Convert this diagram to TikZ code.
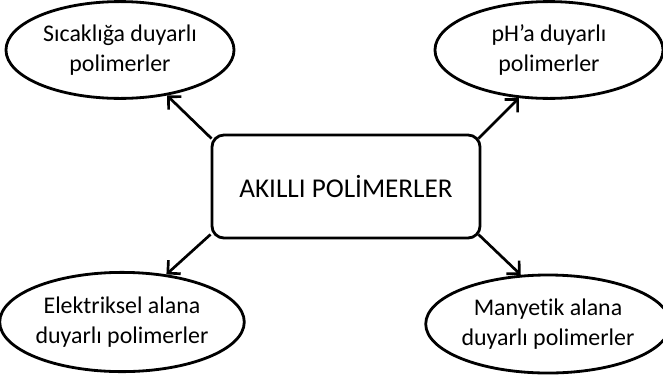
\documentclass[tikz,border=0pt]{standalone}
\usepackage{fontspec}
\setmainfont{Carlito}[Ligatures=NoCommon]
\usetikzlibrary{arrows.meta,shapes.geometric}

\begin{document}
\begin{tikzpicture}[x=0.025cm,y=-0.025cm,>={Straight Barb[length=6.5pt,width=13pt]},
  kind/.style={draw,ellipse,line width=2pt,inner sep=0pt,minimum width=5.7cm,minimum height=2.42cm,align=center,font=\fontsize{17}{21.3}\selectfont},
  core/.style={draw,rounded corners=0.3cm,line width=2pt,inner sep=0pt,minimum width=6.7cm,minimum height=2.575cm,font=\fontsize{19.3}{23}\selectfont},
  link/.style={->,line width=1.9pt}]

\useasboundingbox (0,0) rectangle (663,376);

\node[core] (main) at (346,186.5) {AKILLI POLİMERLER};
\node[kind] (heat) at (120,50) {Sıcaklığa duyarlı\\polimerler};
\node[kind] (ph) at (549,50) {pH’a duyarlı\\polimerler};
\node[kind,minimum width=5.78cm,minimum height=2.48cm] (elec) at (122,322) {Elektriksel alana\\duyarlı polimerler};
\node[kind,minimum width=5.75cm,minimum height=2.45cm] (magn) at (548,324) {Manyetik alana\\duyarlı polimerler};

\draw[link] ([shift={(1,5)}]main.north west) -- (heat.-44);
\draw[link] ([shift={(-3,5)}]main.north east) -- (ph.-122);
\draw[link] ([shift={(0,-5)}]main.south west) -- (elec.47);
\draw[link] ([shift={(-3,-5)}]main.south east) -- (magn.119);

\end{tikzpicture}
\end{document}
